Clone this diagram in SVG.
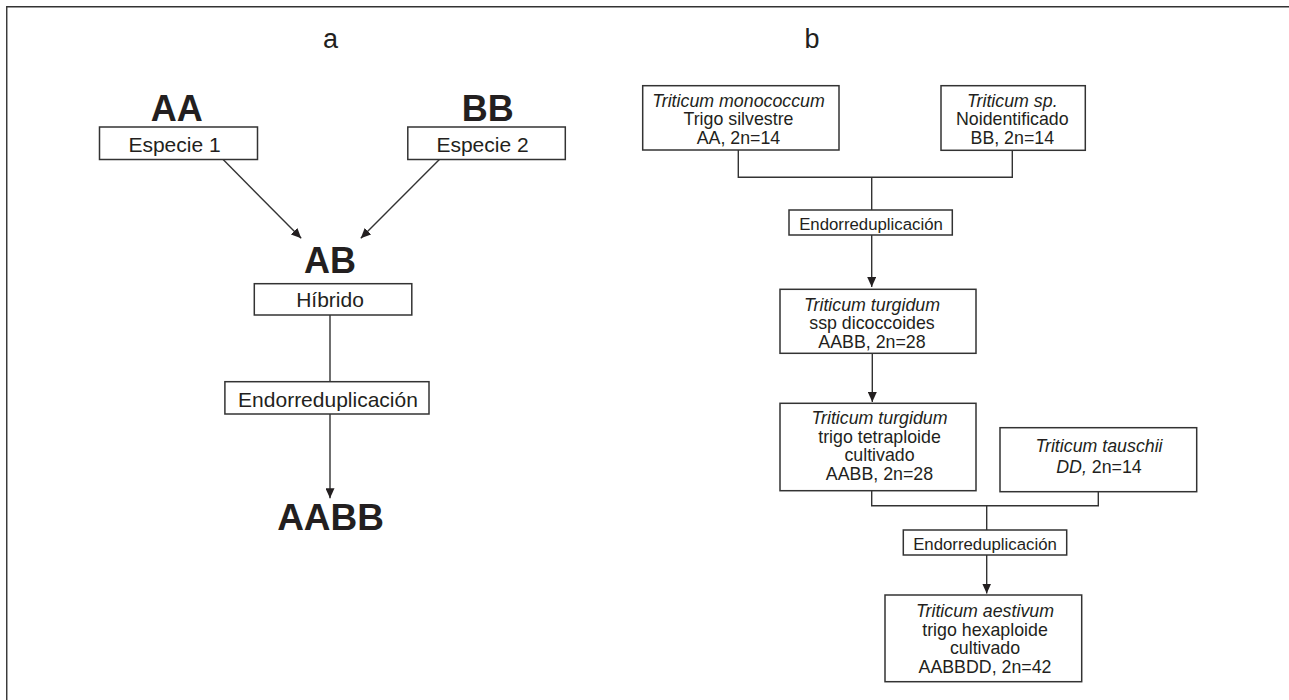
<svg xmlns="http://www.w3.org/2000/svg" width="1289" height="700" viewBox="0 0 1289 700">
<style>
text{font-family:"Liberation Sans",Arial,sans-serif;fill:#231f20}
.box{fill:#fff;stroke:#333;stroke-width:1.5}
.ln{fill:none;stroke:#333;stroke-width:1.4}
.big{font-weight:bold;font-size:36px}
.lab{font-size:21px}
.r{font-size:17.8px}
.e{font-size:16.8px}
.it{font-style:italic}
.ttl{font-size:27px}
</style>
<defs>
<marker id="arr" markerUnits="userSpaceOnUse" markerWidth="11" markerHeight="9" refX="10" refY="4.5" orient="auto" viewBox="0 0 11 9">
<path d="M0,0 L10,4.5 L0,9 z" fill="#231f20"/>
</marker>
</defs>
<rect width="1289" height="700" fill="#fff"/>
<path class="ln" d="M6.75,700 V6.75 H1289" stroke-width="1.5"/>
<text class="ttl" x="330.5" y="47.7" text-anchor="middle">a</text>
<text class="ttl" x="812" y="47.7" text-anchor="middle">b</text>

<g id="connectors">
<line class="ln" x1="222.9" y1="159.3" x2="301.2" y2="238.3" marker-end="url(#arr)"/>
<line class="ln" x1="439.6" y1="159.3" x2="360.8" y2="238.3" marker-end="url(#arr)"/>
<line class="ln" x1="330" y1="315" x2="330" y2="381.7"/>
<line class="ln" x1="330" y1="414" x2="330" y2="498.3" marker-end="url(#arr)"/>
<path class="ln" d="M738.3,150 V177.3 H1012.3 V150.3"/>
<line class="ln" x1="871.7" y1="177.3" x2="871.7" y2="210"/>
<line class="ln" x1="871.7" y1="235" x2="871.7" y2="287" marker-end="url(#arr)"/>
<line class="ln" x1="872.3" y1="353.3" x2="872.3" y2="402" marker-end="url(#arr)"/>
<path class="ln" d="M871.7,490.7 V505.7 H1098.3 V491.7"/>
<line class="ln" x1="986.7" y1="505.7" x2="986.7" y2="530"/>
<line class="ln" x1="986.7" y1="555" x2="986.7" y2="593.5" marker-end="url(#arr)"/>
</g>

<g id="aa">
<text class="big" x="176.7" y="120.7" text-anchor="middle">AA</text>
</g>
<g id="especie1">
<rect class="box" x="99.5" y="127" width="158" height="32.5"/>
<text class="lab" x="174.5" y="151.7" text-anchor="middle">Especie 1</text>
</g>
<g id="bb">
<text class="big" x="487.7" y="120.7" text-anchor="middle">BB</text>
</g>
<g id="especie2">
<rect class="box" x="407.8" y="127" width="157.5" height="32.5"/>
<text class="lab" x="482.5" y="151.7" text-anchor="middle">Especie 2</text>
</g>
<g id="ab">
<text class="big" x="330" y="272.7" text-anchor="middle">AB</text>
</g>
<g id="hibrido">
<rect class="box" x="254.3" y="283.7" width="157.5" height="31.3"/>
<text class="lab" x="330" y="306.7" text-anchor="middle">Híbrido</text>
</g>
<g id="endo-a">
<rect class="box" x="224.9" y="381.7" width="204.1" height="32.3"/>
<text class="lab" x="328" y="406.7" text-anchor="middle">Endorreduplicación</text>
</g>
<g id="aabb">
<text class="big" x="330.6" y="530" text-anchor="middle" style="font-size:37px">AABB</text>
</g>

<g id="monococcum">
<rect class="box" x="642.7" y="85.7" width="196.3" height="64.3"/>
<text class="r" x="738.5" text-anchor="middle"><tspan class="it" x="738.5" y="106.8">Triticum monococcum</tspan><tspan x="738.5" y="125.2">Trigo silvestre</tspan><tspan x="738.5" y="143.5">AA, 2n=14</tspan></text>
</g>
<g id="sp">
<rect class="box" x="941" y="85.7" width="144.3" height="64.6"/>
<text class="r" x="1012.3" text-anchor="middle"><tspan class="it" x="1012.3" y="106.8">Triticum sp.</tspan><tspan x="1012.3" y="125.2">Noidentificado</tspan><tspan x="1012.3" y="143.5">BB, 2n=14</tspan></text>
</g>
<g id="endo-b1">
<rect class="box" x="789" y="210" width="163.3" height="25"/>
<text class="e" x="871" y="230" text-anchor="middle">Endorreduplicación</text>
</g>
<g id="dicoccoides">
<rect class="box" x="780" y="289.3" width="196" height="64"/>
<text class="r" x="872" text-anchor="middle"><tspan class="it" x="872" y="311">Triticum turgidum</tspan><tspan x="872" y="329.3">ssp dicoccoides</tspan><tspan x="872" y="347.7">AABB, 2n=28</tspan></text>
</g>
<g id="tetraploide">
<rect class="box" x="780" y="403.3" width="196" height="87.4"/>
<text class="r" x="879.5" text-anchor="middle"><tspan class="it" x="879.5" y="424">Triticum turgidum</tspan><tspan x="879.5" y="442.7">trigo tetraploide</tspan><tspan x="879.5" y="461.3">cultivado</tspan><tspan x="879.5" y="480">AABB, 2n=28</tspan></text>
</g>
<g id="tauschii">
<rect class="box" x="1000" y="427.7" width="196.7" height="64"/>
<text class="r" x="1099" text-anchor="middle"><tspan class="it" x="1099" y="451.7">Triticum tauschii</tspan><tspan x="1099" y="473.3"><tspan class="it">DD,</tspan> 2n=14</tspan></text>
</g>
<g id="endo-b2">
<rect class="box" x="903.3" y="530" width="163.4" height="25"/>
<text class="e" x="985" y="550" text-anchor="middle">Endorreduplicación</text>
</g>
<g id="aestivum">
<rect class="box" x="885" y="595" width="196.7" height="86.7"/>
<text class="r" x="985" text-anchor="middle"><tspan class="it" x="985" y="616.7">Triticum aestivum</tspan><tspan x="985" y="635.5">trigo hexaploide</tspan><tspan x="985" y="654.4">cultivado</tspan><tspan x="985" y="673.3">AABBDD, 2n=42</tspan></text>
</g>
</svg>
